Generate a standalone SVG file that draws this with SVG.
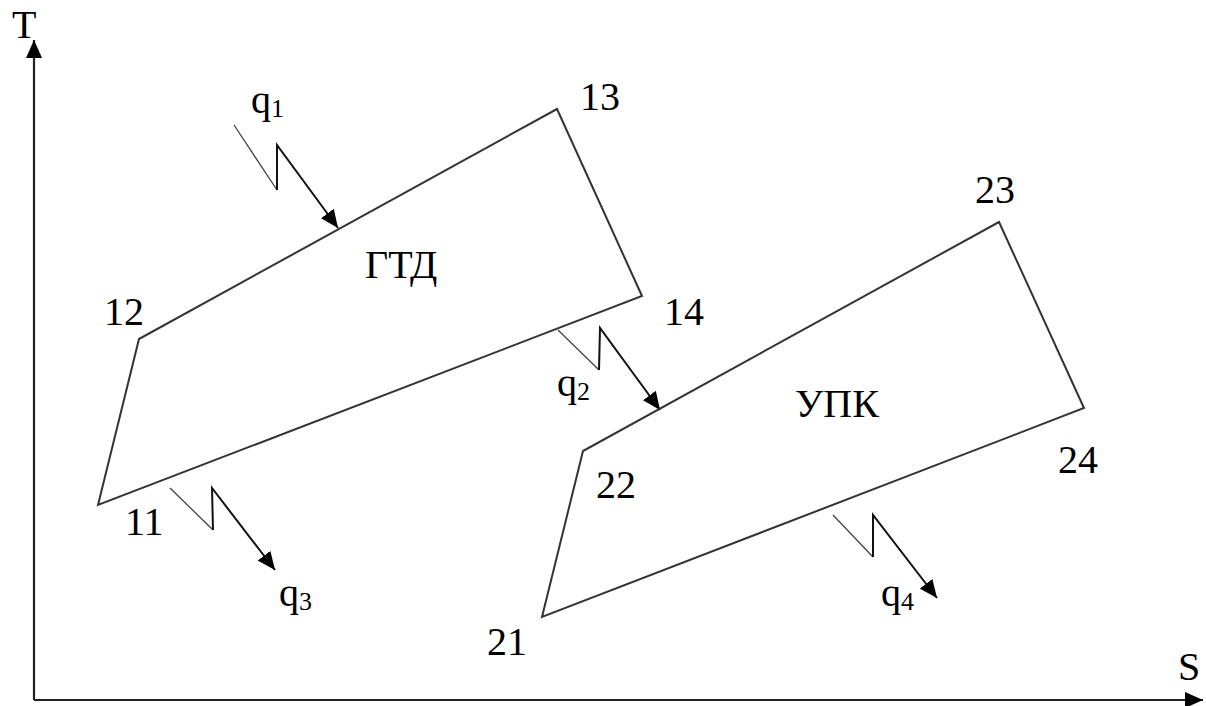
<svg xmlns="http://www.w3.org/2000/svg" width="1206" height="706" viewBox="0 0 1206 706">
<style>
text{font-family:"Liberation Serif","Times New Roman",serif;font-size:40px;fill:#000}
.sub{font-size:26px}
.cyc{fill:none;stroke:#333;stroke-width:2;stroke-linejoin:miter}
.ax{fill:none;stroke:#222;stroke-width:2.2}
.thin{fill:none;stroke:#444;stroke-width:1.3}
.q{fill:none;stroke:#111;stroke-width:2}
</style>
<defs>
<marker id="ah" markerUnits="userSpaceOnUse" markerWidth="20" markerHeight="16" refX="18" refY="8" orient="auto">
<path d="M0,0 L18,8 L0,16 Z" fill="#000"/>
</marker>
</defs>
<rect width="1206" height="706" fill="#fff"/>
<g id="connectors">
<g id="axes">
<line class="ax" x1="34" y1="700" x2="34" y2="40" marker-end="url(#ah)"/>
<line class="ax" x1="34" y1="700" x2="1203" y2="700" marker-end="url(#ah)"/>
</g>
<g id="q1-arrow">
<polyline class="thin" points="234,125 277,190"/>
<polyline class="q" points="277,190 277,145 338,228" marker-end="url(#ah)"/>
</g>
<g id="q2-arrow">
<polyline class="thin" points="558,330 599,370"/>
<polyline class="q" points="599,370 600,328 660,410" marker-end="url(#ah)"/>
</g>
<g id="q3-arrow">
<polyline class="thin" points="170,488 213,530"/>
<polyline class="q" points="213,530 212,488 275,570" marker-end="url(#ah)"/>
</g>
<g id="q4-arrow">
<polyline class="thin" points="833,515 873,557"/>
<polyline class="q" points="873,557 873,515 937,598" marker-end="url(#ah)"/>
</g>
</g>
<g id="gtd">
<polygon class="cyc" points="98,505 139,339 557,109 642,296"/>
<text x="365" y="278">ГТД</text>
</g>
<g id="upk">
<polygon class="cyc" points="542,617 583,451 999,222 1084,408"/>
<text x="795" y="417">УПК</text>
</g>
<g id="labels">
<text x="12" y="38">T</text>
<text x="1178" y="680">S</text>
<text x="104" y="325">12</text>
<text x="580" y="110">13</text>
<text x="664" y="325">14</text>
<text x="125" y="535">11</text>
<text x="596" y="498">22</text>
<text x="487" y="655">21</text>
<text x="975" y="203">23</text>
<text x="1058" y="473">24</text>
<text x="251" y="113">q<tspan class="sub" dy="4">1</tspan></text>
<text x="557" y="396">q<tspan class="sub" dy="4">2</tspan></text>
<text x="279" y="606">q<tspan class="sub" dy="4">3</tspan></text>
<text x="881" y="606">q<tspan class="sub" dy="4">4</tspan></text>
</g>
</svg>
